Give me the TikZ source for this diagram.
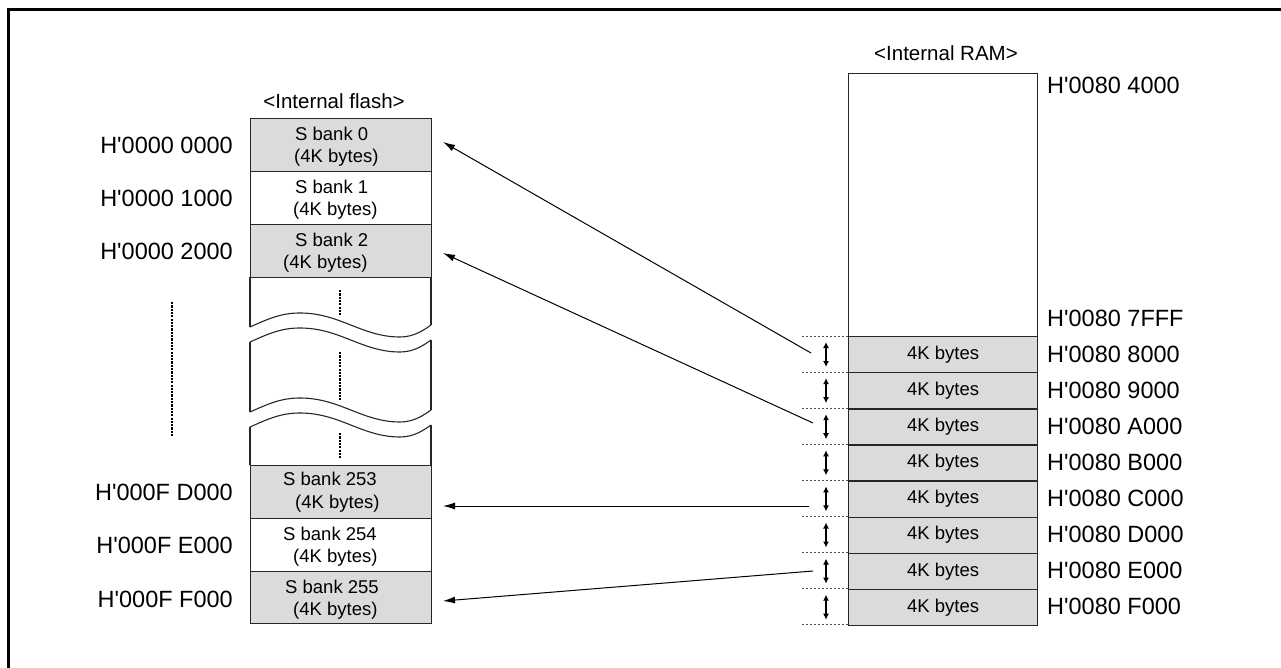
\documentclass[tikz,border=0pt]{standalone}
\usepackage{fontspec}
\setmainfont{Liberation Sans}[Ligatures=TeXOff]
\usetikzlibrary{arrows.meta}
\begin{document}
\begin{tikzpicture}[x=1pt,y=-1pt,
  box/.style={draw=black!85, line width=1.3pt, inner sep=0pt, anchor=north west},
  gbox/.style={box, fill=black!14},
  addr/.style={font=\fontsize{23.5}{26}\selectfont, inner sep=0pt},
  btxt/.style={font=\fontsize{18.5}{22}\selectfont, inner sep=0pt, anchor=west},
  ttl/.style={font=\fontsize{20.5}{24}\selectfont, inner sep=0pt},
  conn/.style={line width=1pt, -{Latex[length=12pt,width=7pt]}},
  spanarr/.style={line width=1.4pt, {Latex[length=6pt,width=6pt]}-{Latex[length=6pt,width=6pt]}},
  guide/.style={draw=black!70, line width=1pt, dash pattern=on 2pt off 2pt},
  vdots/.style={line width=2.8pt, dash pattern=on 2.2pt off 1.1pt},
  edge/.style={draw=black!85, line width=1.3pt},
  wave/.style={draw=black!85, line width=1.1pt}]
\useasboundingbox (0,0) rectangle (1281,668);
% frame
\draw[line width=3pt] (8,668) -- (8,9.5) -- (1281,9.5);

% ---------- Internal flash ----------
\node[ttl] (tflash) at (334,101) {<Internal flash>};
\node[gbox, minimum width=181pt, minimum height=53pt] (b0) at (250,118) {};
\node[box, minimum width=181pt, minimum height=53pt] (b1) at (250,171) {};
\node[gbox, minimum width=181pt, minimum height=53pt] (b2) at (250,224) {};
\node[gbox, minimum width=181pt, minimum height=53pt] (b253) at (250,465) {};
\node[box, minimum width=181pt, minimum height=53pt] (b254) at (250,518) {};
\node[gbox, minimum width=181pt, minimum height=52pt] (b255) at (250,571) {};

\node[btxt] (l0a) at (295,134) {S bank 0};
\node[btxt] (l0b) at (294,158) {(4K bytes)};
\node[btxt] (l1a) at (295,187) {S bank 1};
\node[btxt] (l1b) at (293,211) {(4K bytes)};
\node[btxt] (l2a) at (295,240) {S bank 2};
\node[btxt] (l2b) at (283,264) {(4K bytes)};
\node[btxt] (l253a) at (283,479) {S bank 253};
\node[btxt] (l253b) at (295,504) {(4K bytes)};
\node[btxt] (l254a) at (283,534) {S bank 254};
\node[btxt] (l254b) at (293,558) {(4K bytes)};
\node[btxt] (l255a) at (285,587) {S bank 255};
\node[btxt] (l255b) at (293,611) {(4K bytes)};

% middle part with breaks
\draw[edge] (250,277) -- (250,327);
\draw[edge] (250,342) -- (250,412);
\draw[edge] (250,427) -- (250,465);
\draw[edge] (431,277) -- (431,325);
\draw[edge] (431,340) -- (431,410);
\draw[edge] (431,425) -- (431,465);
\foreach \o in {0,15,85,100}{
  \draw[wave] (250,327+\o) .. controls (270,318+\o) and (282,313+\o) .. (300,313+\o)
    .. controls (340,313+\o) and (362,337+\o) .. (400,337+\o)
    .. controls (414,337+\o) and (424,330+\o) .. (431,325+\o);
}
\draw[vdots] (340,290) -- (340,315);
\draw[vdots] (340,352) -- (340,400);
\draw[vdots] (340,433) -- (340,458);
\draw[vdots] (172,302) -- (172,437);

% left addresses
\node[addr, anchor=east] (h0) at (233,145) {H'0000 0000};
\node[addr, anchor=east] (h1) at (233,198) {H'0000 1000};
\node[addr, anchor=east] (h2) at (233,251) {H'0000 2000};
\node[addr, anchor=east] (h253) at (233,492) {H'000F D000};
\node[addr, anchor=east] (h254) at (233,545) {H'000F E000};
\node[addr, anchor=east] (h255) at (233,599) {H'000F F000};

% ---------- Internal RAM ----------
\node[ttl] (tram) at (946,53) {<Internal RAM>};
\node[box, minimum width=189pt, minimum height=263pt] (ramtop) at (848,73) {};
\node[addr, anchor=west] (a4000) at (1047,85) {H'0080 4000};
\node[addr, anchor=west] (a7fff) at (1047,318) {H'0080 7FFF};
\foreach \i/\t in {0/8000,1/9000,2/A000,3/B000,4/C000,5/D000,6/E000,7/F000}{
  \node[gbox, minimum width=189pt, minimum height=36.1pt,
        font=\fontsize{18.5}{22}\selectfont] (r\i) at (848,336+36.1*\i) {4K bytes};
  \node[addr, anchor=west] (a\i) at (1047,354+36.1*\i) {H'0080 \t};
  \draw[spanarr] (826,342+36.1*\i) -- (826,367+36.1*\i);
}
\foreach \i in {0,...,8}{
  \draw[guide] (802,336+36.1*\i) -- (848,336+36.1*\i);
}

% ---------- connectors ----------
\coordinate (s0) at (811,353);
\coordinate (s1) at (813,423);
\coordinate (s2) at (809,506);
\coordinate (s3) at (813,571);
\coordinate (t0) at (443,142);
\coordinate (t1) at (443,253);
\coordinate (t2) at (443,506);
\coordinate (t3) at (443,601);
\draw[conn] (s0) -- (t0);
\draw[conn] (s1) -- (t1);
\draw[conn] (s2) -- (t2);
\draw[conn] (s3) -- (t3);
\end{tikzpicture}
\end{document}
